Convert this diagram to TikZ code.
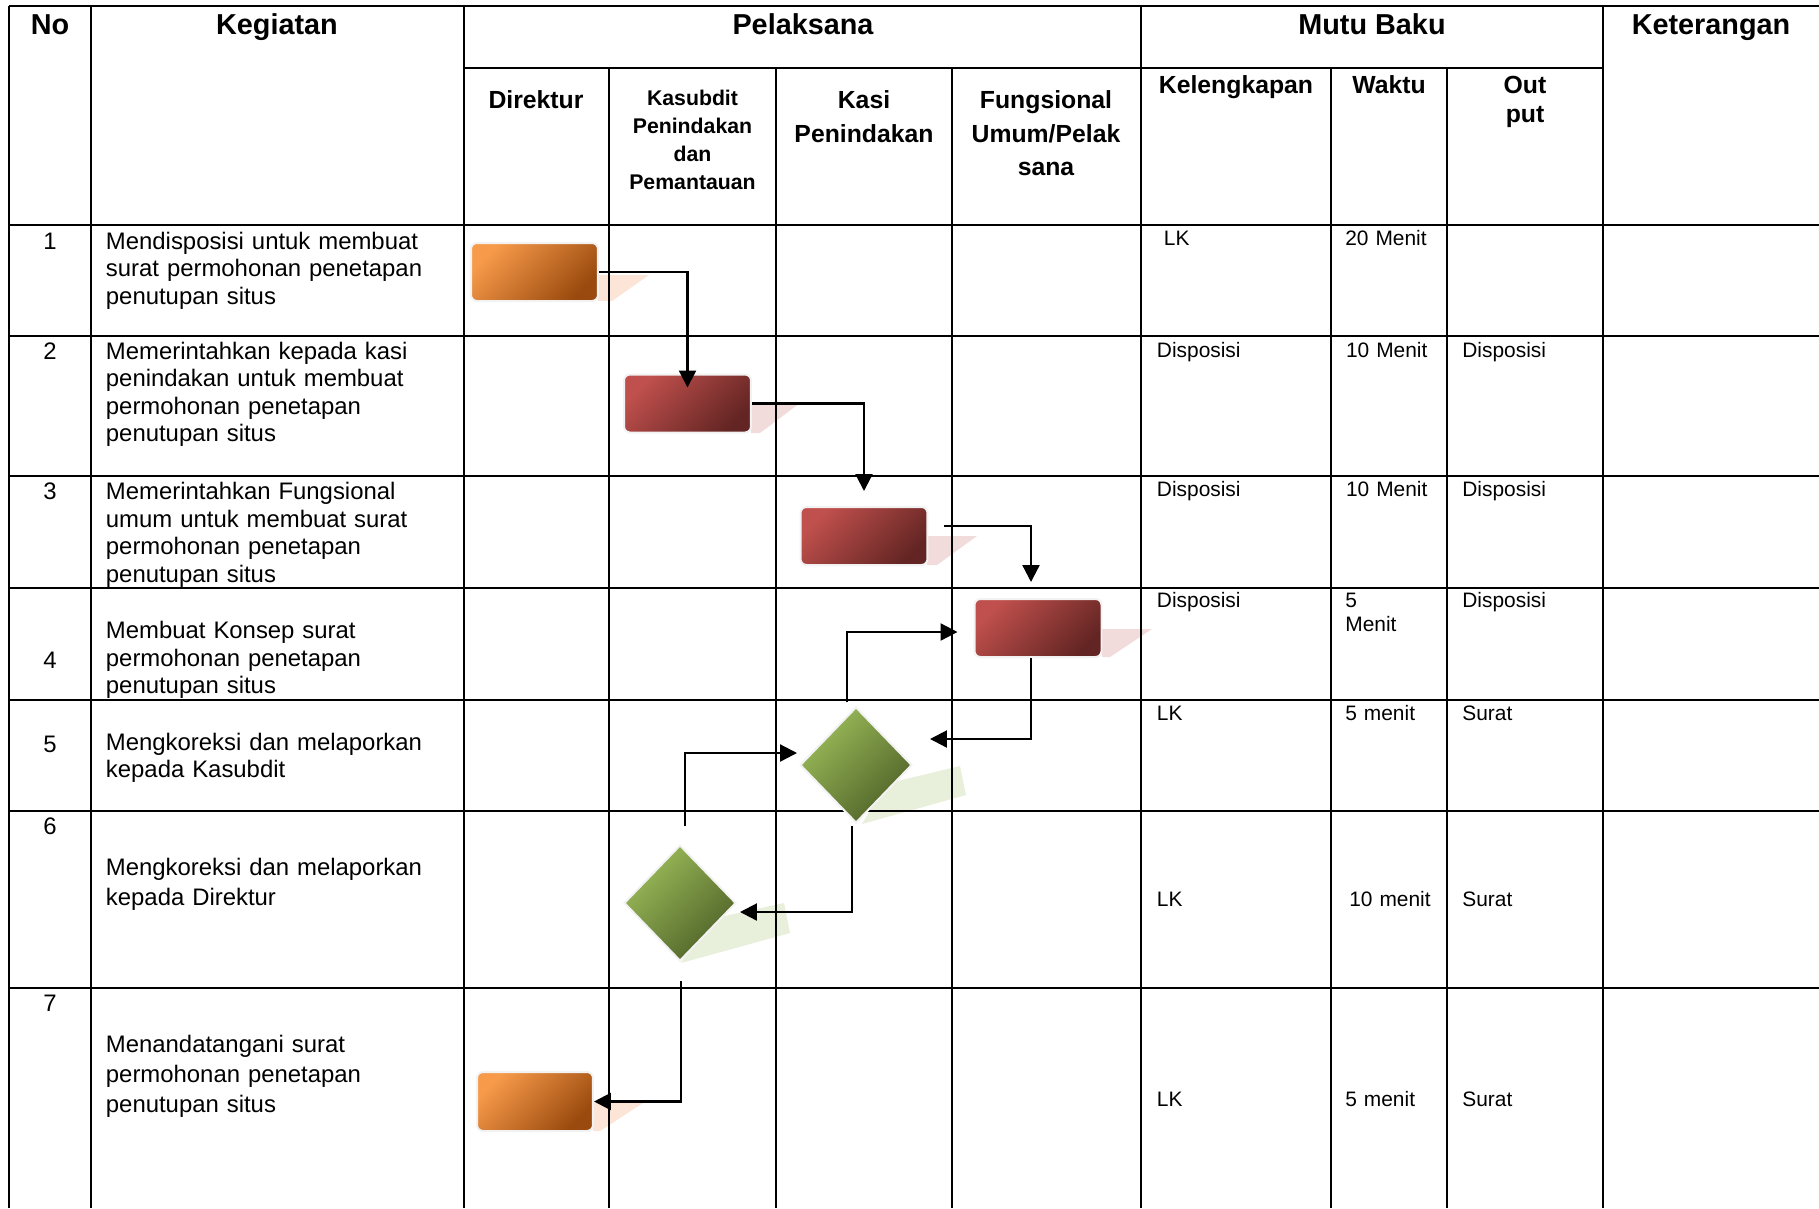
\documentclass[tikz,border=0pt]{standalone}
\usepackage{fontspec}
\setmainfont{Liberation Sans}
\usepackage{tikz}
\usetikzlibrary{calc,arrows.meta,positioning,shapes.geometric}
\definecolor{orgLight}{HTML}{F79A4A}
\definecolor{orgDark}{HTML}{9A4A0E}
\definecolor{redLight}{HTML}{C0504D}
\definecolor{redDark}{HTML}{632523}
\definecolor{grnLight}{HTML}{9BBB59}
\definecolor{grnDark}{HTML}{4F6228}
\definecolor{orgShade}{HTML}{FCE4D6}
\definecolor{redShade}{HTML}{F2DCDB}
\definecolor{grnShade}{HTML}{E8EFDA}
\definecolor{rim}{HTML}{F2F2F2}
\tikzset{
  tabline/.style={line width=0.045cm},
  procbox/.style={rectangle, rounded corners=0.12cm, draw=rim, line width=0.04cm,
    minimum width=2.54cm, minimum height=1.16cm, inner sep=0},
  orgbox/.style={procbox, top color=orgLight, bottom color=orgDark, shading angle=45},
  redbox/.style={procbox, top color=redLight, bottom color=redDark, shading angle=45},
  decbox/.style={diamond, draw=rim, line width=0.04cm, minimum width=2.24cm,
    minimum height=2.32cm, inner sep=0, top color=grnLight, bottom color=grnDark, shading angle=45},
  conn/.style={line width=0.045cm, -{Triangle[length=0.34cm,width=0.34cm]}},
  hdbig/.style={font=\bfseries\fontsize{16.4pt}{19pt}\selectfont, inner sep=0, anchor=base},
  hdmid/.style={font=\bfseries\fontsize{14.1pt}{19pt}\selectfont, inner sep=0, anchor=base,
    text width=3.4cm, align=center},
  hdsmall/.style={font=\bfseries\fontsize{12.1pt}{16pt}\selectfont, inner sep=0, anchor=base,
    text width=3.2cm, align=center},
  numtxt/.style={font=\fontsize{13.6pt}{15.65pt}\selectfont, inner sep=0, anchor=base},
  actxt/.style={font=\fontsize{13.6pt}{15.65pt}\selectfont, inner sep=0, anchor=base west,
    text width=7.2cm, align=left},
  stdtxt/.style={font=\fontsize{11.9pt}{13.6pt}\selectfont, inner sep=0, anchor=base west,
    text width=2.5cm, align=left}
}
\begin{document}
\begin{tikzpicture}[x=0.02cm, y=-0.02cm]
  \useasboundingbox (0,0) rectangle (1819,1208);
  % Shadows under the shapes
  \fill[orgShade] (598,275) -- (649,275) -- (612,301) -- (598,301) -- cycle;
  \fill[redShade] (751,403) -- (800,403) -- (760,433) -- (751,433) -- cycle;
  \fill[redShade] (927,536) -- (977,536) -- (937,565) -- (927,565) -- cycle;
  \fill[redShade] (1102,629) -- (1152,629) -- (1110,657) -- (1102,657) -- cycle;
  \fill[grnShade] (885,784) -- (960,766) -- (966,795) -- (862,824) -- cycle;
  \fill[grnShade] (706,920) -- (784,903) -- (790,933) -- (681,963) -- cycle;
  \fill[orgShade] (593,1103) -- (643,1103) -- (600,1131) -- (593,1131) -- cycle;
  % Table rules
  \draw[tabline] (9,6) -- (1819,6);
  \draw[tabline] (464,68) -- (1603,68);
  \draw[tabline] (9,225) -- (1819,225);
  \draw[tabline] (9,336) -- (1819,336);
  \draw[tabline] (9,476) -- (1819,476);
  \draw[tabline] (9,588) -- (1819,588);
  \draw[tabline] (9,700) -- (1819,700);
  \draw[tabline] (9,811) -- (1819,811);
  \draw[tabline] (9,988) -- (1819,988);
  \draw[tabline] (9,6) -- (9,1208);
  \draw[tabline] (91,6) -- (91,1208);
  \draw[tabline] (464,6) -- (464,1208);
  \draw[tabline] (609,68) -- (609,1208);
  \draw[tabline] (776,68) -- (776,1208);
  \draw[tabline] (952,68) -- (952,1208);
  \draw[tabline] (1141,6) -- (1141,1208);
  \draw[tabline] (1331,68) -- (1331,1208);
  \draw[tabline] (1447,68) -- (1447,1208);
  \draw[tabline] (1603,6) -- (1603,1208);
  % Header
  \node[hdbig] (hNo) at (50,34) {No};
  \node[hdbig] (hKeg) at (277,34) {Kegiatan};
  \node[hdbig] (hPel) at (803,34) {Pelaksana};
  \node[hdbig] (hMutu) at (1372,34) {Mutu Baku};
  \node[hdbig] (hKet) at (1711,34) {Keterangan};
  \node[hdmid] (hDir) at (536,108.7) {Direktur};
  \node[hdsmall] (hKsb) at (692.5,105) {Kasubdit\\Penindakan\\dan\\Pemantauan};
  \node[hdmid] (hKasi) at (864,108.7) {Kasi\\Penindakan};
  \node[hdmid] (hFu) at (1046,108.7) {Fungsional\\Umum/Pelak\\sana};
  \node[hdmid] (hKel) at (1236,93.5) {Kelengkapan};
  \node[hdmid] (hWak) at (1389,93.5) {Waktu};
  \node[hdmid, text width=2.8cm, font=\bfseries\fontsize{14.1pt}{16.4pt}\selectfont] (hOut) at (1525,93.5) {Out\\put};
  % Row numbers
  \node[numtxt] (n1) at (50,249) {1};
  \node[numtxt] (n2) at (50,359) {2};
  \node[numtxt] (n3) at (50,499.6) {3};
  \node[numtxt] (n4) at (50,668.7) {4};
  \node[numtxt] (n5) at (50,752.7) {5};
  \node[numtxt] (n6) at (50,834.7) {6};
  \node[numtxt] (n7) at (50,1011) {7};
  % Kegiatan
  \node[actxt] (t1) at (105.6,249) {Mendisposisi untuk membuat\\surat permohonan penetapan\\penutupan situs};
  \node[actxt] (t2) at (105.6,359) {Memerintahkan kepada kasi\\penindakan untuk membuat\\permohonan penetapan\\penutupan situs};
  \node[actxt] (t3) at (105.6,499.6) {Memerintahkan Fungsional\\umum untuk membuat surat\\permohonan penetapan\\penutupan situs};
  \node[actxt] (t4) at (105.6,638.7) {Membuat Konsep surat\\permohonan penetapan\\penutupan situs};
  \node[actxt] (t5) at (105.6,750) {Mengkoreksi dan melaporkan\\kepada Kasubdit};
  \node[actxt, font=\fontsize{13.6pt}{17.3pt}\selectfont] (t6) at (105.6,875) {Mengkoreksi dan melaporkan\\kepada Direktur};
  \node[actxt, font=\fontsize{13.6pt}{17.3pt}\selectfont] (t7) at (105.6,1052) {Menandatangani surat\\permohonan penetapan\\penutupan situs};
  % Mutu baku
  \node[stdtxt] (k1) at (1163.6,245.7) {LK};
  \node[stdtxt] (w1) at (1345,245.7) {20 Menit};
  \node[stdtxt] (k2) at (1156.6,357) {Disposisi};
  \node[stdtxt] (w2) at (1345.7,357) {10 Menit};
  \node[stdtxt] (o2) at (1462,357) {Disposisi};
  \node[stdtxt] (k3) at (1156.6,496.3) {Disposisi};
  \node[stdtxt] (w3) at (1345.7,496.3) {10 Menit};
  \node[stdtxt] (o3) at (1462,496.3) {Disposisi};
  \node[stdtxt] (k4) at (1156.6,607.7) {Disposisi};
  \node[stdtxt] (w4) at (1345,607.7) {5\\Menit};
  \node[stdtxt] (o4) at (1462,607.7) {Disposisi};
  \node[stdtxt] (k5) at (1156.6,720.2) {LK};
  \node[stdtxt] (w5) at (1345,720.2) {5 menit};
  \node[stdtxt] (o5) at (1462,720.2) {Surat};
  \node[stdtxt] (k6) at (1156.6,906.7) {LK};
  \node[stdtxt] (w6) at (1349,906.7) {10 menit};
  \node[stdtxt] (o6) at (1462,906.7) {Surat};
  \node[stdtxt] (k7) at (1156.6,1106.5) {LK};
  \node[stdtxt] (w7) at (1345,1106.5) {5 menit};
  \node[stdtxt] (o7) at (1462,1106.5) {Surat};
  % Flow shapes
  \node[orgbox] (dir1) at (534.5,272) {};
  \node[redbox] (ksb1) at (687.5,403.5) {};
  \node[redbox] (kasi1) at (864,536) {};
  \node[redbox] (fu1) at (1038,628) {};
  \node[decbox] (kor1) at (856,765) {};
  \node[decbox] (kor2) at (680,903) {};
  \node[orgbox, minimum width=2.32cm, minimum height=1.18cm] (dir2) at (535,1101.5) {};
  % Connectors
  \draw[conn] (dir1.east) -| ($(ksb1.north)+(0,14)$);
  \draw[conn] (ksb1.east) -| ($(kasi1.north)+(0,-15)$);
  \draw[conn] ($(kasi1.east)+(16,-10)$) -| ($(fu1.north)+(-7,-16)$);
  \draw[conn] ($(fu1.south)+(-7,0)$) |- ($(kor1.east)+(17,-26)$);
  \draw[conn] ($(kor1.north)+(-9,-4)$) |- ($(fu1.west)+(-16,4)$);
  \draw[conn] ($(kor1.south)+(-4,2)$) |- ($(kor2.east)+(3,9)$);
  \draw[conn] ($(kor2.north)+(5,-18)$) |- ($(kor1.west)+(-2,-12)$);
  \draw[conn] ($(kor2.south)+(1,19)$) |- (dir2.east);
\end{tikzpicture}
\end{document}
